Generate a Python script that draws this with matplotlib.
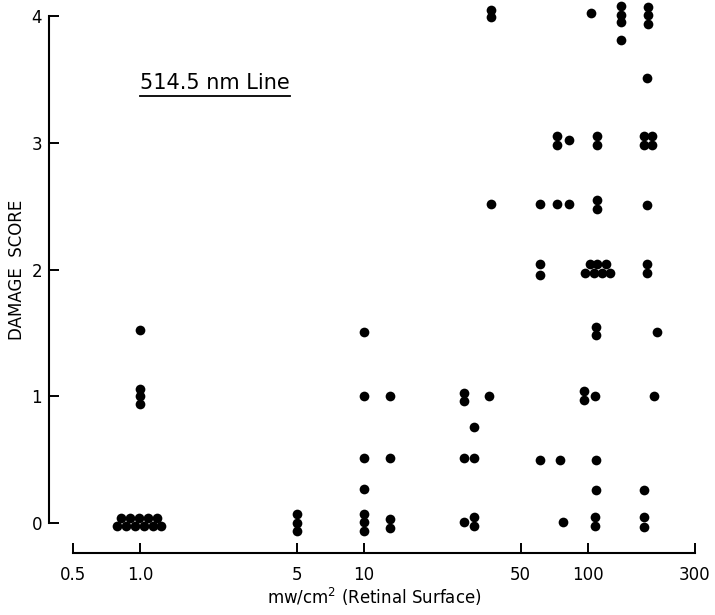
import numpy as np
import matplotlib
matplotlib.use("Agg")
import matplotlib.pyplot as plt
from matplotlib.lines import Line2D


### RAW DATA
# exposure (mW/cm2 at the retina) and damage score of each eye
powerDensity = [
    1.0, 1.0, 1.0, 1.0,
    0.824, 0.903, 0.99, 1.085, 1.19,
    0.79, 0.867, 0.95, 1.04, 1.14, 1.24,
    5, 5, 5,
    10, 10, 10, 10, 10, 10, 10,
    13, 13, 13, 13,
    28, 28, 28, 28,
    31, 31, 31, 31,
    36,
    37, 37, 37,
    61, 61, 61, 61,
    73, 73, 73,
    75, 77,
    82, 82,
    96, 96, 97, 102, 103, 106,
    107, 107, 107,
    109, 109, 109, 109,
    110, 110, 110, 110, 110,
    115, 120, 126,
    141, 141, 141, 141,
    177, 177, 177, 177, 177,
    183, 183, 183, 183,
    186, 186, 186,
    193, 193,
    198, 203,
]
damageScore = [
    1.52, 1.06, 1.0, 0.94,
    0.04, 0.04, 0.04, 0.04, 0.04,
    -0.02, -0.02, -0.02, -0.02, -0.02, -0.02,
    0.07, 0.0, -0.06,
    1.51, 1.0, 0.51, 0.265, 0.07, 0.005, -0.06,
    1.0, 0.51, 0.035, -0.035,
    1.03, 0.96, 0.51, 0.01,
    0.76, 0.51, 0.045, -0.02,
    1.0,
    4.05, 3.99, 2.52,
    2.52, 2.04, 1.96, 0.5,
    3.05, 2.98, 2.52,
    0.5, 0.01,
    3.02, 2.52,
    1.04, 0.97, 1.97, 2.04, 4.02, 1.97,
    1.0, 0.045, -0.02,
    1.55, 1.48, 0.5, 0.26,
    3.05, 2.98, 2.55, 2.48, 2.04,
    1.97, 2.04, 1.97,
    4.08, 4.01, 3.95, 3.81,
    3.05, 2.98, 0.26, 0.045, -0.03,
    3.51, 2.51, 2.04, 1.97,
    4.07, 4.01, 3.94,
    3.05, 2.98,
    1.0, 1.51,
]

xTicks = [0.5, 1.0, 5, 10, 50, 100, 300]
xTickLabels = ["0.5", "1.0", "5", "10", "50", "100", "300"]
yTicks = [0, 1, 2, 3, 4]
lineLabel = "514.5 nm Line"


def main():
    fig = plt.figure(figsize=(7.15, 6.15), dpi=100)
    ax = fig.add_axes([49 / 715, 62 / 615, 651 / 715, 548 / 615])

    ax.plot(powerDensity, damageScore, "o", color="black", markersize=7,
            markeredgewidth=0, clip_on=False)

    ax.set_xscale("log")
    ax.set_xlim(0.3925, 316.2)
    ax.set_ylim(-0.236, 4.087)

    # open frame: y axis stops at 0 and 4, x axis sits below the data
    ax.spines["top"].set_visible(False)
    ax.spines["right"].set_visible(False)
    ax.spines["left"].set_bounds(0, 4)
    ax.spines["bottom"].set_bounds(0.5, 300)
    for side in ["left", "bottom"]:
        ax.spines[side].set_linewidth(1.5)

    ax.set_xticks(xTicks)
    ax.set_xticklabels(xTickLabels)
    ax.xaxis.set_minor_locator(matplotlib.ticker.NullLocator())
    ax.set_yticks(yTicks)
    ax.tick_params(axis="both", direction="in", length=7, width=1.4,
                   labelsize=12)
    ax.tick_params(axis="x", pad=9)
    ax.tick_params(axis="y", pad=5)

    ax.set_xlabel("mw/cm$^2$ (Retinal Surface)", fontsize=12, labelpad=2)
    ax.set_ylabel("DAMAGE  SCORE", fontsize=12)
    ax.yaxis.set_label_coords(-0.036, 0.516)

    label = ax.text(0.255, 0.847, lineLabel, transform=ax.transAxes,
                    ha="center", va="baseline", fontsize=15)

    # underline the label
    fig.canvas.draw()
    box = label.get_window_extent(renderer=fig.canvas.get_renderer())
    W, H = fig.bbox.width, fig.bbox.height
    yLine = (box.y0 - 3) / H
    fig.add_artist(Line2D([box.x0 / W, box.x1 / W], [yLine, yLine],
                          transform=fig.transFigure, color="black", lw=1.3))

    fig.savefig("out.png", dpi=100)


if __name__ == "__main__":
    main()
